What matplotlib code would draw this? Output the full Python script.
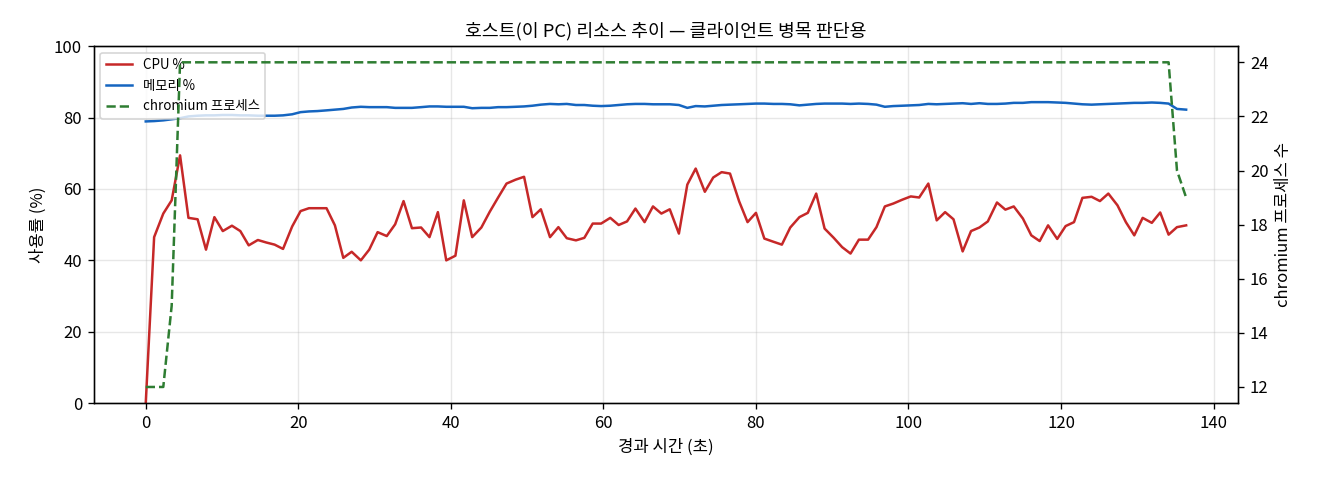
import matplotlib
matplotlib.use("Agg")
import matplotlib.pyplot as plt

plt.rcParams['font.family'] = ['Noto Sans CJK KR', 'DejaVu Sans']
plt.rcParams['axes.unicode_minus'] = False

# elapsed seconds of each sample
elapsed = [0.0, 1.1, 2.3, 3.4, 4.5, 5.6, 6.8, 7.9, 9.0, 10.1,
           11.3, 12.4, 13.5, 14.7, 15.8, 16.9, 18.0, 19.2, 20.3, 21.4,
           22.5, 23.7, 24.8, 25.9, 27.0, 28.2, 29.3, 30.4, 31.6, 32.7,
           33.8, 34.9, 36.1, 37.2, 38.3, 39.4, 40.6, 41.7, 42.8, 44.0,
           45.1, 46.2, 47.3, 48.5, 49.6, 50.7, 51.8, 53.0, 54.1, 55.2,
           56.4, 57.5, 58.6, 59.7, 60.9, 62.0, 63.1, 64.2, 65.4, 66.5,
           67.6, 68.7, 69.9, 71.0, 72.1, 73.3, 74.4, 75.5, 76.6, 77.8,
           78.9, 80.0, 81.1, 82.3, 83.4, 84.5, 85.7, 86.8, 87.9, 89.0,
           90.2, 91.3, 92.4, 93.5, 94.7, 95.8, 96.9, 98.0, 99.2, 100.3,
           101.4, 102.6, 103.7, 104.8, 105.9, 107.1, 108.2, 109.3, 110.4, 111.6,
           112.7, 113.8, 115.0, 116.1, 117.2, 118.3, 119.5, 120.6, 121.7, 122.8,
           124.0, 125.1, 126.2, 127.4, 128.5, 129.6, 130.7, 131.9, 133.0, 134.1,
           135.2, 136.4]

cpu = [0.0, 46.5, 53.1, 56.8, 69.4, 51.9, 51.5, 43.0, 52.1, 48.2,
       49.7, 48.2, 44.2, 45.7, 45.0, 44.4, 43.2, 49.5, 53.8, 54.6,
       54.6, 54.6, 49.8, 40.7, 42.4, 40.0, 43.0, 47.9, 46.8, 50.1,
       56.6, 49.0, 49.2, 46.5, 53.5, 40.0, 41.3, 56.8, 46.5, 49.2,
       53.6, 57.6, 61.5, 62.6, 63.4, 52.1, 54.3, 46.5, 49.3, 46.2,
       45.6, 46.3, 50.3, 50.3, 51.9, 49.9, 50.9, 54.5, 50.7, 55.1,
       53.1, 54.3, 47.5, 61.2, 65.7, 59.2, 63.2, 64.7, 64.3, 56.5,
       50.7, 53.3, 46.1, 45.2, 44.4, 49.2, 52.1, 53.3, 58.7, 48.9,
       46.3, 43.7, 41.9, 45.8, 45.8, 49.3, 55.1, 55.9, 57.0, 57.9,
       57.6, 61.5, 51.2, 53.5, 51.5, 42.5, 48.2, 49.2, 50.9, 56.2,
       54.2, 55.1, 51.7, 47.0, 45.4, 49.8, 46.0, 49.6, 50.7, 57.5,
       57.8, 56.6, 58.7, 55.4, 50.7, 47.0, 51.9, 50.5, 53.4, 47.2,
       49.3, 49.8]

mem = [78.9, 79.0, 79.2, 79.5, 79.8, 80.3, 80.5, 80.6, 80.6, 80.7,
       80.7, 80.6, 80.6, 80.5, 80.5, 80.5, 80.6, 80.9, 81.5, 81.7,
       81.8, 82.0, 82.2, 82.4, 82.8, 83.0, 82.9, 82.9, 82.9, 82.7,
       82.7, 82.7, 82.9, 83.1, 83.1, 83.0, 83.0, 83.0, 82.6, 82.7,
       82.7, 82.9, 82.9, 83.0, 83.1, 83.3, 83.6, 83.8, 83.7, 83.8,
       83.5, 83.5, 83.3, 83.2, 83.3, 83.5, 83.7, 83.8, 83.8, 83.7,
       83.7, 83.7, 83.5, 82.7, 83.2, 83.1, 83.3, 83.5, 83.6, 83.7,
       83.8, 83.9, 83.9, 83.8, 83.8, 83.7, 83.4, 83.6, 83.8, 83.9,
       83.9, 83.9, 83.8, 83.9, 83.8, 83.6, 83.0, 83.2, 83.3, 83.4,
       83.5, 83.8, 83.7, 83.8, 83.9, 84.0, 83.8, 84.0, 83.8, 83.8,
       83.9, 84.1, 84.1, 84.3, 84.3, 84.3, 84.2, 84.1, 83.9, 83.7,
       83.6, 83.7, 83.8, 83.9, 84.0, 84.1, 84.1, 84.2, 84.1, 83.9,
       82.4, 82.2]

# chromium process count: 12 at start, 15, then 24 until the end
chromium = [12, 12, 12, 15] + [24] * 116 + [20, 19]

fig, ax = plt.subplots(figsize=(11, 4), dpi=120)
fig.subplots_adjust(left=0.071, right=0.938, bottom=0.16, top=0.904)

l1, = ax.plot(elapsed, cpu, color="#c62828", lw=1.5, label="CPU %")
l2, = ax.plot(elapsed, mem, color="#1565c0", lw=1.5, label="메모리 %")
ax.set_ylim(0, 100)
ax.set_xlabel("경과 시간 (초)")
ax.set_ylabel("사용률 (%)")
ax.grid(alpha=0.3)

ax2 = ax.twinx()
l3, = ax2.plot(elapsed, chromium, color="#2e7d32", lw=1.5, ls="--", label="chromium 프로세스")
ax2.set_ylabel("chromium 프로세스 수")

ax.legend(handles=[l1, l2, l3], loc="upper left", fontsize=8)
ax.set_title("호스트(이 PC) 리소스 추이 — 클라이언트 병목 판단용", fontsize=11)

fig.savefig("out.png", dpi=120)
